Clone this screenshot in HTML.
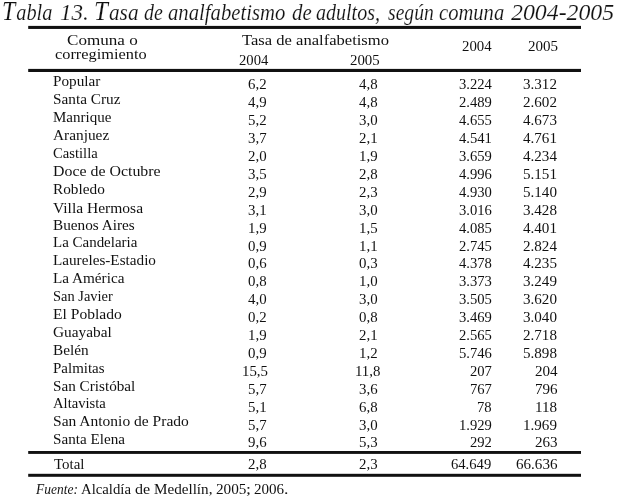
<!DOCTYPE html>
<html lang="es"><head><meta charset="utf-8"><title>Tabla 13</title>
<style>
html,body{margin:0;padding:0;background:#fff;}
html{width:618px;height:496px;overflow:hidden;}
body{width:618px;height:496px;overflow:hidden;}
#page{position:absolute;left:0;top:0;width:618px;height:496px;overflow:hidden;background:#fff;font-family:"Liberation Serif",serif;color:#111;}
.t{position:absolute;display:block;white-space:nowrap;line-height:1;transform-origin:0 0;}
.i{font-style:italic;}
.ti{-webkit-text-stroke:0.15px #fff;}
.cap::first-letter{font-size:27.5px;letter-spacing:1.2px;}
svg{position:absolute;left:0;top:0;}
</style></head><body>
<div id="page">
<div class="title"><span class="t i ti cap" style="left:1.97px;top:-3.30px;font-size:23.5px;transform:scaleX(0.8655)">Tabla</span> <span class="t i ti" style="left:59.78px;top:-0.30px;font-size:24px;transform:scaleX(0.9615)">13.</span> <span class="t i ti cap" style="left:94.19px;top:-3.30px;font-size:23.5px;transform:scaleX(0.9065)">Tasa</span> <span class="t i ti" style="left:143.65px;top:0.70px;font-size:23.5px;transform:scaleX(0.8500)">de</span> <span class="t i ti" style="left:167.92px;top:0.70px;font-size:23.5px;transform:scaleX(0.8809)">analfabetismo</span> <span class="t i ti" style="left:291.61px;top:0.70px;font-size:23.5px;transform:scaleX(0.8900)">de</span> <span class="t i ti" style="left:316.15px;top:0.70px;font-size:23.5px;transform:scaleX(0.8521)">adultos,</span> <span class="t i ti" style="left:388.30px;top:0.70px;font-size:23.5px;transform:scaleX(0.8340)">según</span> <span class="t i ti" style="left:439.42px;top:0.70px;font-size:23.5px;transform:scaleX(0.8764)">comuna</span> <span class="t i ti" style="left:511.30px;top:-0.30px;font-size:24px;transform:scaleX(0.9922)">2004-2005</span></div>
<div class="head"><span class="t" style="left:66.86px;top:32.70px;font-size:15px;transform:scaleX(1.1383)">Comuna o</span> <span class="t" style="left:55.11px;top:46.80px;font-size:15px;transform:scaleX(1.0892)">corregimiento</span></div>
<div class="head"><span class="t" style="left:242.30px;top:32.80px;font-size:15px;transform:scaleX(1.1045)">Tasa de analfabetismo</span> <span class="t" style="left:239.35px;top:51.90px;font-size:15.4px;transform:scaleX(0.9533)">2004</span> <span class="t" style="left:350.03px;top:51.90px;font-size:15.4px;transform:scaleX(0.9655)">2005</span></div>
<div class="head"><span class="t" style="left:461.84px;top:38.10px;font-size:15.4px;transform:scaleX(0.9633)">2004</span></div>
<div class="head"><span class="t" style="left:528.02px;top:38.10px;font-size:15.4px;transform:scaleX(0.9759)">2005</span></div>
<div class="row"><span class="t" style="left:52.98px;top:74.15px;font-size:15px;transform:scaleX(1.0152)">Popular</span> <span class="t" style="left:248.07px;top:76.40px;font-size:15.4px;transform:scaleX(0.9650)">6,2</span> <span class="t" style="left:359.17px;top:76.40px;font-size:15.4px;transform:scaleX(0.9650)">4,8</span> <span class="t" style="left:458.54px;top:76.40px;font-size:15.4px;transform:scaleX(0.9500)">3.224</span> <span class="t" style="left:523.40px;top:76.40px;font-size:15.4px;transform:scaleX(0.9800)">3.312</span></div>
<div class="row"><span class="t" style="left:52.98px;top:92.05px;font-size:15px;transform:scaleX(1.0185)">Santa Cruz</span> <span class="t" style="left:248.07px;top:94.30px;font-size:15.4px;transform:scaleX(0.9650)">4,9</span> <span class="t" style="left:359.17px;top:94.30px;font-size:15.4px;transform:scaleX(0.9650)">4,8</span> <span class="t" style="left:458.54px;top:94.30px;font-size:15.4px;transform:scaleX(0.9500)">2.489</span> <span class="t" style="left:523.40px;top:94.30px;font-size:15.4px;transform:scaleX(0.9800)">2.602</span></div>
<div class="row"><span class="t" style="left:53.00px;top:109.95px;font-size:15px;transform:scaleX(1.0000)">Manrique</span> <span class="t" style="left:248.07px;top:112.20px;font-size:15.4px;transform:scaleX(0.9650)">5,2</span> <span class="t" style="left:359.17px;top:112.20px;font-size:15.4px;transform:scaleX(0.9650)">3,0</span> <span class="t" style="left:458.54px;top:112.20px;font-size:15.4px;transform:scaleX(0.9500)">4.655</span> <span class="t" style="left:523.40px;top:112.20px;font-size:15.4px;transform:scaleX(0.9800)">4.673</span></div>
<div class="row"><span class="t" style="left:52.98px;top:127.85px;font-size:15px;transform:scaleX(1.0226)">Aranjuez</span> <span class="t" style="left:248.07px;top:130.10px;font-size:15.4px;transform:scaleX(0.9650)">3,7</span> <span class="t" style="left:359.17px;top:130.10px;font-size:15.4px;transform:scaleX(0.9650)">2,1</span> <span class="t" style="left:458.54px;top:130.10px;font-size:15.4px;transform:scaleX(0.9500)">4.541</span> <span class="t" style="left:523.40px;top:130.10px;font-size:15.4px;transform:scaleX(0.9800)">4.761</span></div>
<div class="row"><span class="t" style="left:53.02px;top:145.75px;font-size:15px;transform:scaleX(0.9750)">Castilla</span> <span class="t" style="left:248.07px;top:148.00px;font-size:15.4px;transform:scaleX(0.9650)">2,0</span> <span class="t" style="left:359.17px;top:148.00px;font-size:15.4px;transform:scaleX(0.9650)">1,9</span> <span class="t" style="left:458.54px;top:148.00px;font-size:15.4px;transform:scaleX(0.9500)">3.659</span> <span class="t" style="left:523.40px;top:148.00px;font-size:15.4px;transform:scaleX(0.9800)">4.234</span></div>
<div class="row"><span class="t" style="left:52.94px;top:164.20px;font-size:15px;transform:scaleX(1.0590)">Doce de Octubre</span> <span class="t" style="left:248.07px;top:165.90px;font-size:15.4px;transform:scaleX(0.9650)">3,5</span> <span class="t" style="left:359.17px;top:165.90px;font-size:15.4px;transform:scaleX(0.9650)">2,8</span> <span class="t" style="left:458.54px;top:165.90px;font-size:15.4px;transform:scaleX(0.9500)">4.996</span> <span class="t" style="left:523.40px;top:165.90px;font-size:15.4px;transform:scaleX(0.9800)">5.151</span></div>
<div class="row"><span class="t" style="left:52.98px;top:182.40px;font-size:15px;transform:scaleX(1.0184)">Robledo</span> <span class="t" style="left:248.07px;top:183.80px;font-size:15.4px;transform:scaleX(0.9650)">2,9</span> <span class="t" style="left:359.17px;top:183.80px;font-size:15.4px;transform:scaleX(0.9650)">2,3</span> <span class="t" style="left:458.54px;top:183.80px;font-size:15.4px;transform:scaleX(0.9500)">4.930</span> <span class="t" style="left:523.40px;top:183.80px;font-size:15.4px;transform:scaleX(0.9800)">5.140</span></div>
<div class="row"><span class="t" style="left:52.96px;top:200.50px;font-size:15px;transform:scaleX(1.0353)">Villa Hermosa</span> <span class="t" style="left:248.07px;top:201.70px;font-size:15.4px;transform:scaleX(0.9650)">3,1</span> <span class="t" style="left:359.17px;top:201.70px;font-size:15.4px;transform:scaleX(0.9650)">3,0</span> <span class="t" style="left:458.54px;top:201.70px;font-size:15.4px;transform:scaleX(0.9500)">3.016</span> <span class="t" style="left:523.40px;top:201.70px;font-size:15.4px;transform:scaleX(0.9800)">3.428</span></div>
<div class="row"><span class="t" style="left:52.98px;top:218.20px;font-size:15px;transform:scaleX(1.0165)">Buenos Aires</span> <span class="t" style="left:248.07px;top:219.60px;font-size:15.4px;transform:scaleX(0.9650)">1,9</span> <span class="t" style="left:359.17px;top:219.60px;font-size:15.4px;transform:scaleX(0.9650)">1,5</span> <span class="t" style="left:458.54px;top:219.60px;font-size:15.4px;transform:scaleX(0.9500)">4.085</span> <span class="t" style="left:523.40px;top:219.60px;font-size:15.4px;transform:scaleX(0.9800)">4.401</span></div>
<div class="row"><span class="t" style="left:53.00px;top:235.30px;font-size:15px;transform:scaleX(0.9976)">La Candelaria</span> <span class="t" style="left:248.07px;top:237.50px;font-size:15.4px;transform:scaleX(0.9650)">0,9</span> <span class="t" style="left:359.17px;top:237.50px;font-size:15.4px;transform:scaleX(0.9650)">1,1</span> <span class="t" style="left:458.54px;top:237.50px;font-size:15.4px;transform:scaleX(0.9500)">2.745</span> <span class="t" style="left:523.40px;top:237.50px;font-size:15.4px;transform:scaleX(0.9800)">2.824</span></div>
<div class="row"><span class="t" style="left:52.99px;top:253.20px;font-size:15px;transform:scaleX(1.0130)">Laureles-Estadio</span> <span class="t" style="left:248.07px;top:255.40px;font-size:15.4px;transform:scaleX(0.9650)">0,6</span> <span class="t" style="left:359.17px;top:255.40px;font-size:15.4px;transform:scaleX(0.9650)">0,3</span> <span class="t" style="left:458.54px;top:255.40px;font-size:15.4px;transform:scaleX(0.9500)">4.378</span> <span class="t" style="left:523.40px;top:255.40px;font-size:15.4px;transform:scaleX(0.9800)">4.235</span></div>
<div class="row"><span class="t" style="left:52.99px;top:271.10px;font-size:15px;transform:scaleX(1.0145)">La América</span> <span class="t" style="left:248.07px;top:273.30px;font-size:15.4px;transform:scaleX(0.9650)">0,8</span> <span class="t" style="left:359.17px;top:273.30px;font-size:15.4px;transform:scaleX(0.9650)">1,0</span> <span class="t" style="left:458.54px;top:273.30px;font-size:15.4px;transform:scaleX(0.9500)">3.373</span> <span class="t" style="left:523.40px;top:273.30px;font-size:15.4px;transform:scaleX(0.9800)">3.249</span></div>
<div class="row"><span class="t" style="left:53.04px;top:289.30px;font-size:15px;transform:scaleX(0.9623)">San Javier</span> <span class="t" style="left:248.07px;top:291.20px;font-size:15.4px;transform:scaleX(0.9650)">4,0</span> <span class="t" style="left:359.17px;top:291.20px;font-size:15.4px;transform:scaleX(0.9650)">3,0</span> <span class="t" style="left:458.54px;top:291.20px;font-size:15.4px;transform:scaleX(0.9500)">3.505</span> <span class="t" style="left:523.40px;top:291.20px;font-size:15.4px;transform:scaleX(0.9800)">3.620</span></div>
<div class="row"><span class="t" style="left:52.96px;top:307.10px;font-size:15px;transform:scaleX(1.0385)">El Poblado</span> <span class="t" style="left:248.07px;top:309.10px;font-size:15.4px;transform:scaleX(0.9650)">0,2</span> <span class="t" style="left:359.17px;top:309.10px;font-size:15.4px;transform:scaleX(0.9650)">0,8</span> <span class="t" style="left:458.54px;top:309.10px;font-size:15.4px;transform:scaleX(0.9500)">3.469</span> <span class="t" style="left:523.40px;top:309.10px;font-size:15.4px;transform:scaleX(0.9800)">3.040</span></div>
<div class="row"><span class="t" style="left:52.98px;top:324.80px;font-size:15px;transform:scaleX(1.0218)">Guayabal</span> <span class="t" style="left:248.07px;top:327.00px;font-size:15.4px;transform:scaleX(0.9650)">1,9</span> <span class="t" style="left:359.17px;top:327.00px;font-size:15.4px;transform:scaleX(0.9650)">2,1</span> <span class="t" style="left:458.54px;top:327.00px;font-size:15.4px;transform:scaleX(0.9500)">2.565</span> <span class="t" style="left:523.40px;top:327.00px;font-size:15.4px;transform:scaleX(0.9800)">2.718</span></div>
<div class="row"><span class="t" style="left:52.98px;top:342.70px;font-size:15px;transform:scaleX(1.0182)">Belén</span> <span class="t" style="left:248.07px;top:344.90px;font-size:15.4px;transform:scaleX(0.9650)">0,9</span> <span class="t" style="left:359.17px;top:344.90px;font-size:15.4px;transform:scaleX(0.9650)">1,2</span> <span class="t" style="left:458.54px;top:344.90px;font-size:15.4px;transform:scaleX(0.9500)">5.746</span> <span class="t" style="left:523.40px;top:344.90px;font-size:15.4px;transform:scaleX(0.9800)">5.898</span></div>
<div class="row"><span class="t" style="left:53.00px;top:360.60px;font-size:15px;transform:scaleX(0.9980)">Palmitas</span> <span class="t" style="left:242.26px;top:362.80px;font-size:15.4px;transform:scaleX(0.9650)">15,5</span> <span class="t" style="left:355.00px;top:362.80px;font-size:15.4px;transform:scaleX(0.9650)">11,8</span> <span class="t" style="left:469.51px;top:362.80px;font-size:15.4px;transform:scaleX(0.9500)">207</span> <span class="t" style="left:534.72px;top:362.80px;font-size:15.4px;transform:scaleX(0.9800)">204</span></div>
<div class="row"><span class="t" style="left:52.99px;top:378.50px;font-size:15px;transform:scaleX(1.0127)">San Cristóbal</span> <span class="t" style="left:248.07px;top:380.70px;font-size:15.4px;transform:scaleX(0.9650)">5,7</span> <span class="t" style="left:359.17px;top:380.70px;font-size:15.4px;transform:scaleX(0.9650)">3,6</span> <span class="t" style="left:469.51px;top:380.70px;font-size:15.4px;transform:scaleX(0.9500)">767</span> <span class="t" style="left:534.72px;top:380.70px;font-size:15.4px;transform:scaleX(0.9800)">796</span></div>
<div class="row"><span class="t" style="left:53.02px;top:396.40px;font-size:15px;transform:scaleX(0.9755)">Altavista</span> <span class="t" style="left:248.07px;top:398.60px;font-size:15.4px;transform:scaleX(0.9650)">5,1</span> <span class="t" style="left:359.17px;top:398.60px;font-size:15.4px;transform:scaleX(0.9650)">6,8</span> <span class="t" style="left:476.83px;top:398.60px;font-size:15.4px;transform:scaleX(0.9500)">78</span> <span class="t" style="left:535.28px;top:398.60px;font-size:15.4px;transform:scaleX(0.9800)">118</span></div>
<div class="row"><span class="t" style="left:52.97px;top:414.10px;font-size:15px;transform:scaleX(1.0346)">San Antonio de Prado</span> <span class="t" style="left:248.07px;top:416.50px;font-size:15.4px;transform:scaleX(0.9650)">5,7</span> <span class="t" style="left:359.17px;top:416.50px;font-size:15.4px;transform:scaleX(0.9650)">3,0</span> <span class="t" style="left:458.54px;top:416.50px;font-size:15.4px;transform:scaleX(0.9500)">1.929</span> <span class="t" style="left:523.40px;top:416.50px;font-size:15.4px;transform:scaleX(0.9800)">1.969</span></div>
<div class="row"><span class="t" style="left:52.99px;top:432.10px;font-size:15px;transform:scaleX(1.0100)">Santa Elena</span> <span class="t" style="left:248.07px;top:434.40px;font-size:15.4px;transform:scaleX(0.9650)">9,6</span> <span class="t" style="left:359.17px;top:434.40px;font-size:15.4px;transform:scaleX(0.9650)">5,3</span> <span class="t" style="left:469.51px;top:434.40px;font-size:15.4px;transform:scaleX(0.9500)">292</span> <span class="t" style="left:534.72px;top:434.40px;font-size:15.4px;transform:scaleX(0.9800)">263</span></div>
<div class="row total"><span class="t" style="left:54.00px;top:456.80px;font-size:15px;transform:scaleX(0.9967)">Total</span> <span class="t" style="left:248.07px;top:455.60px;font-size:15.4px;transform:scaleX(0.9650)">2,8</span> <span class="t" style="left:359.17px;top:455.60px;font-size:15.4px;transform:scaleX(0.9650)">2,3</span> <span class="t" style="left:451.24px;top:455.60px;font-size:15.4px;transform:scaleX(0.9500)">64.649</span> <span class="t" style="left:515.87px;top:455.60px;font-size:15.4px;transform:scaleX(0.9800)">66.636</span></div>
<div class="source"><span class="t i" style="left:36.10px;top:482.40px;font-size:15px;transform:scaleX(0.8978)">Fuente:</span> <span class="t" style="left:80.62px;top:482.40px;font-size:15px;transform:scaleX(0.9837)">Alcaldía</span> <span class="t" style="left:134.73px;top:482.40px;font-size:15px;transform:scaleX(1.0692)">de</span> <span class="t" style="left:153.99px;top:482.40px;font-size:15px;transform:scaleX(1.0089)">Medellín,</span> <span class="t" style="left:215.91px;top:481.40px;font-size:15.4px;transform:scaleX(0.9897)">2005</span><span class="t" style="left:246.05px;top:481.40px;font-size:15.4px;transform:scaleX(1.1500)">;</span> <span class="t" style="left:253.72px;top:481.40px;font-size:15.4px;transform:scaleX(0.9793)">2006</span><span class="t" style="left:283.55px;top:481.40px;font-size:15.4px;transform:scaleX(1.1500)">.</span></div>
<svg width="618" height="496" viewBox="0 0 618 496">
<rect x="28.2" y="25.9" width="552.8" height="3.05" fill="#111"/>
<rect x="28.2" y="68.9" width="552.8" height="3.10" fill="#111"/>
<rect x="28.2" y="451" width="552.8" height="2.90" fill="#111"/>
<rect x="28.2" y="473.8" width="552.8" height="3.00" fill="#111"/>
</svg>
</div>
</body></html>
